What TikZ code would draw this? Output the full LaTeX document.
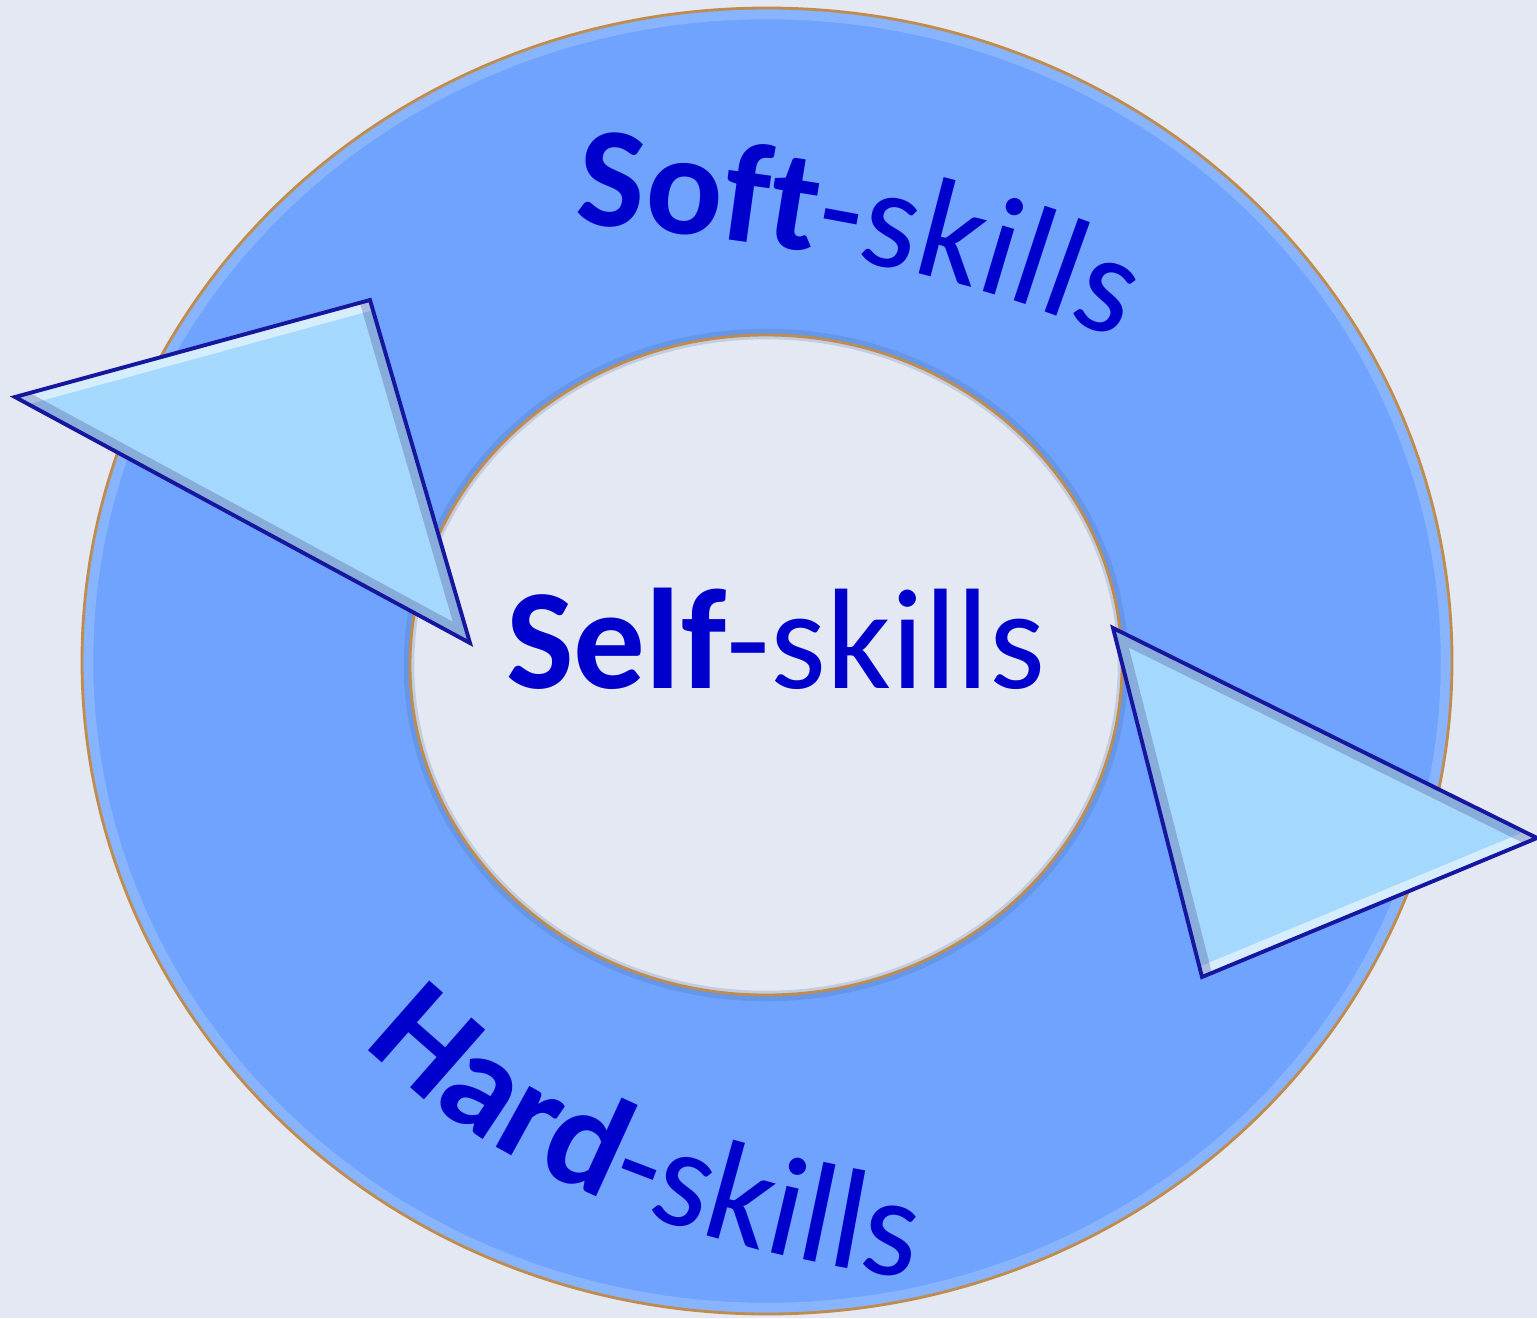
\documentclass[tikz,border=0pt]{standalone}
\usepackage{fontspec}
\setmainfont{Carlito}
\usepackage{xcolor}
\usetikzlibrary{decorations.text}
\definecolor{fundo}{HTML}{E4E8F3}
\definecolor{anel}{HTML}{6FA3FD}
\definecolor{aneledge}{HTML}{C08C4E}
\definecolor{tri}{HTML}{A5D8FD}
\definecolor{triedge}{HTML}{16169E}
\definecolor{texto}{HTML}{0000CC}
\newcommand{\ringfont}{\fontsize{40.7}{48}\selectfont}

\begin{document}
\begin{tikzpicture}[x=0.01cm, y=-0.01cm,
  seta/.style={draw=triedge, line width=1.1pt, line join=miter},
  luz/.style={white, opacity=0.55, line width=6pt},
  sombra/.style={triedge!50!gray, opacity=0.3, line width=6pt}]
% Fundo
\fill[fundo] (0,0) rectangle (1537,1318);
\useasboundingbox (0,0) rectangle (1537,1318);
% Anel
\fill[anel, even odd rule] (767,661) ellipse [x radius=685, y radius=653]
  (766,665) ellipse [x radius=356, y radius=330];
\begin{scope}
\clip (767,661) ellipse [x radius=685, y radius=653];
\draw[white, opacity=0.18, line width=3pt] (767,661) ellipse [x radius=679, y radius=647];
\draw[anel!60!black, opacity=0.2, line width=3pt] (766,665) ellipse [x radius=357, y radius=331];
\end{scope}
\draw[aneledge, line width=0.8pt] (767,661) ellipse [x radius=685, y radius=653];
\draw[aneledge, line width=0.8pt] (766,665) ellipse [x radius=356, y radius=330];
% Setas
\coordinate (a1) at (15,397);
\coordinate (a2) at (370,300);
\coordinate (a3) at (470,643);
\coordinate (b1) at (1113,628);
\coordinate (b2) at (1537,838);
\coordinate (b3) at (1202,977);
\begin{scope}
\clip (a1) -- (a2) -- (a3) -- cycle;
\fill[tri] (a1) -- (a2) -- (a3) -- cycle;
\draw[luz] (a1) -- (a2);
\draw[sombra] (a2) -- (a3) -- (a1);
\end{scope}
\draw[seta] (a1) -- (a2) -- (a3) -- cycle;
\begin{scope}
\clip (b1) -- (b2) -- (b3) -- cycle;
\fill[tri] (b1) -- (b2) -- (b3) -- cycle;
\draw[luz] (b2) -- (b3);
\draw[sombra] (b3) -- (b1) -- (b2);
\end{scope}
\draw[seta] (b1) -- (b2) -- (b3) -- cycle;
% Textos
\path[decorate, decoration={text along path, text align=center, text color=texto,
  text={|\ringfont\bfseries|Soft|\ringfont\mdseries|-skills}}]
  (473,217) -- (573,224) .. controls (753,237) and (950,266) .. (1120,341) -- (1212,381);
\path[decorate, decoration={text along path, text align=center, text color=texto,
  text={|\ringfont\bfseries|Hard|\ringfont\mdseries|-skills}}]
  (288,961) -- (355,1035) .. controls (489,1183) and (727,1256) .. (925,1280) -- (1024,1292);
\node[font=\ringfont, text=texto, anchor=base] (self) at (776,688) {\textbf{Self}-skills};
\end{tikzpicture}
\end{document}
